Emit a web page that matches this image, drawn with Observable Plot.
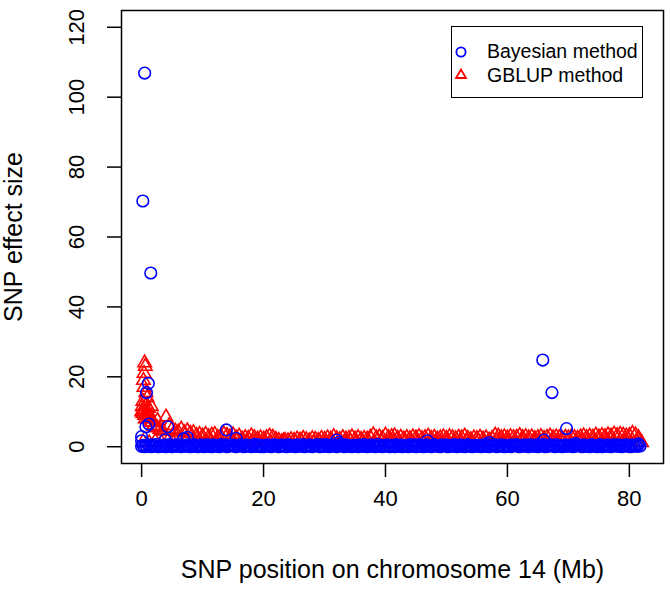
<!DOCTYPE html>
<html>
<head>
<meta charset="utf-8">
<script src="https://cdn.jsdelivr.net/npm/d3@7"></script>
<script src="https://cdn.jsdelivr.net/npm/@observablehq/plot@0.6"></script>
<style>
  html, body { margin: 0; padding: 0; background: #fff; }
  #wrap { position: relative; width: 671px; height: 589px; font-family: "Liberation Sans", Arial, sans-serif; }
  #legend { position: absolute; left: 451px; top: 26px; width: 190px; height: 70px; border: 1.5px solid #000; background: #fff; }
</style>
</head>
<body>
<div id="wrap"></div>
<script>
// ---- data ----
const xTicks = [0, 20, 40, 60, 80];
const yTicks = [0, 20, 40, 60, 80, 100, 120];

// GBLUP band: one SNP effect every 0.5 Mb starting at 0 Mb
const gblupStep = 0.5;
const gblupBand = [
  10,9,8,7,6,5.5,5,4.5,8.5,6,
  5,4.5,4.2,5,4,4.5,3.8,4,3.2,3.5,
  3,3.5,2.8,3.3,3.5,2.6,3,3.6,3.2,2.8,
  3.4,2.5,3,2.2,2.6,2.4,3.1,2.6,2.2,2.5,
  2.2,2.6,3,2.7,2.1,1.8,1.4,1.8,1.7,2,
  1.8,2.2,1.9,2.4,2,1.7,2.3,2.1,1.8,2.4,
  2.1,2.5,2.2,2.9,2.3,2,2.6,2.2,2.4,2.8,
  2.2,2.6,2.1,2.4,2.2,2.7,3.4,2.5,2.8,2.4,
  3.3,2.6,2.9,3.1,2.4,2.7,2.2,2.6,2.3,2.8,
  2.5,2.9,2.3,2.6,3,2.4,2.7,2.2,2.5,2.8,
  2.4,2.9,2.6,2.3,2.7,2.5,3,2.4,2,2.5,
  2.3,2.7,2.2,2.5,1.9,2.4,3.3,3,2.6,2.8,
  2.5,2.9,2.6,2.7,3.2,2.6,2.9,2.5,2.8,2.3,
  2.6,2.9,2.4,2.7,3,2.5,2.8,2.6,2.3,2.7,
  2.5,2.9,2.6,2.4,2.8,3.1,2.6,3,2.7,3.3,
  2.8,3.2,2.9,3.4,3,3.6,3.2,3.5,3.3,3,
  3.2,3.8,3.4,2.6,1.2
];
// second, lower GBLUP row: one SNP every 1 Mb starting at 0.25 Mb (fills the band)
const gblupLowStart = 0.25;
const gblupLowStep = 1.0;
const gblupLow = [
  1.4,1.1,1.6,1.2,1.5,1.0,1.3,1.7,1.2,1.4,
  1.1,1.5,1.3,1.0,1.6,1.2,1.4,1.1,1.3,1.5,
  1.2,1.0,1.4,1.6,1.1,1.3,1.5,1.2,1.0,1.4,
  1.3,1.6,1.1,1.2,1.5,1.0,1.4,1.3,1.1,1.6,
  1.2,1.4,1.0,1.5,1.3,1.1,1.6,1.2,1.4,1.0,
  1.5,1.3,1.1,1.4,1.2,1.6,1.0,1.3,1.5,1.1,
  1.4,1.2,1.6,1.0,1.3,1.5,1.1,1.4,1.2,1.6,
  1.0,1.3,1.5,1.2,1.4,1.1,1.6,1.3,1.0,1.5,
  1.2,1.4
];
// GBLUP large effects near the start of the chromosome
const gblupPeakX = [0.1,0.2,0.3,0.4,0.5,0.6,0.4,0.7,0.9,0.8,1.0,1.2,1.4,0.6,1.7,2.0,2.3,0.3,1.1,0.2,1.6,2.6];
const gblupPeakY = [11.5,13,19,21,24,23,17,15.5,14,12,10,9,8.5,8,7,6,5.5,10.5,11,9.5,11.5,7.5];

// Bayesian band: one SNP effect every 0.25 Mb starting at 0 Mb
const bayesStep = 0.25;
const bayesBand = [
  0.1,0.4,0,0.3,0.6,0.2,0,0.5,0.1,0.3,0.7,0,0.2,0.4,0.1,0.5,0,0.3,0.6,0.2,
  0,0.3,0.5,0.1,0.2,0.6,0,0.4,0.2,0.1,0.5,0.3,0,0.2,0.6,0.1,0.4,0,0.3,0.5,
  0.2,0,0.4,0.6,0.1,0.3,0,0.5,0.2,0.4,0.1,0,0.6,0.3,0.2,0.5,0,0.1,0.4,0.3,
  0.5,0.1,0,0.3,0.2,0.6,0.4,0,0.1,0.5,0.3,0.2,0,0.4,0.7,0.1,0.2,0.5,0,0.3,
  0,0.4,0.2,0.5,0.1,0,0.3,0.6,0.2,0.4,0,0.1,0.5,0.3,0.2,0,0.6,0.4,0.1,0.3,
  0.3,0,0.5,0.2,0.4,0.1,0.6,0,0.3,0.2,0.5,0.1,0,0.4,0.3,0.6,0.2,0,0.5,0.1,
  0.1,0.6,0.3,0,0.2,0.5,0.4,0.1,0,0.3,0.6,0.2,0.4,0,0.5,0.1,0.3,0.2,0,0.4,
  0.4,0.2,0,0.5,0.3,0.1,0.6,0.2,0,0.4,0.1,0.5,0.3,0,0.2,0.7,0.1,0.4,0,0.3,
  0.2,0.5,0.1,0,0.4,0.3,0,0.6,0.2,0.1,0.5,0,0.3,0.4,0.2,0,0.6,0.1,0.3,0.5,
  0,0.3,0.6,0.1,0.2,0,0.4,0.5,0.1,0.3,0,0.2,0.6,0.4,0.1,0.3,0,0.5,0.2,0.4,
  0.5,0,0.2,0.4,0.1,0.6,0.3,0,0.2,0.5,0.1,0.4,0,0.3,0.6,0.2,0.1,0,0.4,0.3,
  0.1,0.4,0.3,0,0.5,0.2,0.1,0.6,0,0.3,0.4,0.2,0.5,0,0.1,0.3,0.6,0.2,0,0.4,
  0.3,0.1,0,0.5,0.2,0.4,0.6,0.1,0,0.3,0.2,0.5,0.1,0.4,0,0.6,0.3,0.2,0.1,0.5,
  0,0.5,0.2,0.3,0.6,0,0.1,0.4,0.2,0.5,0.3,0,0.6,0.1,0.2,0.4,0,0.3,0.5,0.1,
  0.4,0.2,0.5,0,0.1,0.3,0.6,0.2,0.4,0,0.5,0.1,0.3,0.2,0,0.6,0.4,0.1,0.3,0,
  0.2,0.6,0,0.4,0.3,0.1,0.5,0.2,0,0.4,0.6,0.3,0.1,0.5,0.2,0,0.4,0.3,0.6,0.1,
  0.3,0,0.5,0.2,0.4,0.1,0.6,0.2
];
// Bayesian large effects
const bayesPeakX = [0.5,0.2,1.5,1.1,0.8,1.2,0.7,4.3,0.0,0.0,3.9,7.5,6.9,13.9,15.5,32.0,46.9,57.0,66.0,71.2,81.5,32.3,65.8,67.3,69.7];
const bayesPeakY = [106.9,70.3,49.7,18.1,15.5,6.5,5.7,5.7,2.9,1.7,2.0,2.7,2.3,4.8,2.4,1.9,1.7,1.2,1.9,0.9,0.8,1.2,24.8,15.5,5.2];

// ---- tables built from the arrays ----
const gblup = gblupLow.map((v, i) => ({pos: gblupLowStart + i * gblupLowStep, eff: v}))
  .concat(gblupBand.map((v, i) => ({pos: i * gblupStep, eff: v})))
  .concat(gblupPeakX.map((x, i) => ({pos: x, eff: gblupPeakY[i]})));
const bayes = bayesBand.map((v, i) => ({pos: i * bayesStep, eff: v}))
  .concat(bayesPeakX.map((x, i) => ({pos: x, eff: bayesPeakY[i]})));

const font = '"Liberation Sans", Arial, sans-serif';

const chart = Plot.plot({
  width: 671,
  height: 589,
  marginLeft: 121,
  marginRight: 8,
  marginTop: 10,
  marginBottom: 126,
  style: {fontFamily: font, background: "#fff", color: "#000"},
  x: {domain: [-3.3, 85.6]},
  y: {domain: [-4.8, 124.8]},
  marks: [
    Plot.axisX({ticks: xTicks, tickSize: 14, tickPadding: 13, fontSize: 22, strokeWidth: 1.5,
      label: "SNP position on chromosome 14 (Mb)", labelAnchor: "center", labelArrow: "none", labelOffset: 114}),
    Plot.axisY({ticks: yTicks, tickSize: 14, tickPadding: 24, tickRotate: -90, fontSize: 22, strokeWidth: 1.5,
      label: "SNP effect size", labelAnchor: "center", labelArrow: "none", labelOffset: 117}),
    Plot.dot(gblup, {x: "pos", y: "eff", symbol: "triangle", r: 5, fill: "none", stroke: "red", strokeWidth: 1.6}),
    Plot.dot(bayes, {x: "pos", y: "eff", symbol: "circle", r: 5.8, fill: "none", stroke: "blue", strokeWidth: 1.6}),
    Plot.frame({stroke: "#000", strokeWidth: 1.5})
  ]
});
chart.querySelectorAll('g[aria-label="x-axis label"] text, g[aria-label="y-axis label"] text').forEach(t => t.setAttribute("font-size", 25));

const wrap = document.getElementById("wrap");
wrap.appendChild(chart);

const legend = document.createElement("div");
legend.id = "legend";
legend.innerHTML = `
<svg width="190" height="70" style="position:absolute;left:0;top:0;font-family:${font}">
  <circle cx="9" cy="25" r="4.6" fill="none" stroke="blue" stroke-width="1.8"/>
  <path d="M9,42.5 L4,51 L14,51 Z" fill="none" stroke="red" stroke-width="1.8"/>
  <text x="35" y="31" font-size="19.5" fill="#000">Bayesian method</text>
  <text x="35" y="55" font-size="19.5" fill="#000">GBLUP method</text>
</svg>`;
wrap.appendChild(legend);
</script>
</body>
</html>
